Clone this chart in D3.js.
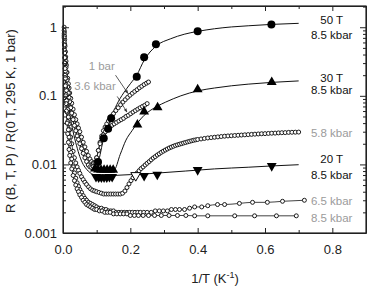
<!DOCTYPE html>
<html>
<head>
<meta charset="utf-8">
<script src="https://cdn.jsdelivr.net/npm/d3@7"></script>
<style>
  body { margin: 0; background: #fff; }
  svg { font-family: "Liberation Sans", Arial, sans-serif; }
</style>
</head>
<body>
<div id="chart"></div>
<script>
// 1/T (K^-1) vs normalised resistance
const bar1 = [[0.0034,1.0],[0.004,0.85],[0.005,0.66],[0.006,0.53],[0.007,0.44],[0.008,0.37],[0.009,0.32],[0.010,0.28],[0.012,0.22],[0.014,0.18],[0.016,0.15],[0.018,0.13],[0.020,0.11],[0.023,0.092],[0.026,0.078],[0.030,0.064],[0.034,0.053],[0.038,0.045],[0.042,0.039],[0.046,0.034],[0.050,0.030],[0.055,0.025],[0.060,0.021],[0.065,0.018],[0.070,0.0155],[0.075,0.0135],[0.080,0.012],[0.085,0.011],[0.090,0.0105],[0.095,0.0108],[0.100,0.0125],[0.105,0.016],[0.110,0.021],[0.115,0.026],[0.120,0.031],[0.125,0.035],[0.130,0.039],[0.135,0.043],[0.140,0.047],[0.145,0.051],[0.150,0.055],[0.157,0.061],[0.164,0.067],[0.171,0.074],[0.178,0.081],[0.185,0.088],[0.192,0.095],[0.199,0.102],[0.206,0.109],[0.213,0.116],[0.220,0.123],[0.227,0.131],[0.234,0.138],[0.241,0.146],[0.248,0.153],[0.254,0.159]];

const kbar36 = [[0.0034,0.9],[0.004,0.74],[0.005,0.56],[0.006,0.44],[0.007,0.36],[0.008,0.3],[0.009,0.26],[0.010,0.22],[0.012,0.17],[0.014,0.135],[0.016,0.11],[0.018,0.095],[0.020,0.082],[0.023,0.067],[0.026,0.056],[0.030,0.045],[0.034,0.037],[0.038,0.031],[0.042,0.026],[0.046,0.023],[0.050,0.02],[0.055,0.017],[0.060,0.0145],[0.065,0.0125],[0.070,0.011],[0.075,0.0098],[0.080,0.0092],[0.085,0.009],[0.090,0.0093],[0.095,0.0105],[0.100,0.0125],[0.105,0.016],[0.110,0.02],[0.115,0.024],[0.120,0.027],[0.126,0.030],[0.132,0.033],[0.138,0.035],[0.145,0.037],[0.152,0.039],[0.159,0.041],[0.166,0.043],[0.173,0.045],[0.180,0.047],[0.187,0.05],[0.194,0.052],[0.201,0.055],[0.208,0.058],[0.215,0.061],[0.222,0.064],[0.229,0.067],[0.236,0.07],[0.243,0.073],[0.250,0.077]];

const kbar58 = [[0.0034,0.8],[0.004,0.6],[0.005,0.42],[0.006,0.3],[0.007,0.23],[0.008,0.18],[0.009,0.145],[0.010,0.12],[0.012,0.085],[0.014,0.063],[0.016,0.049],[0.018,0.039],[0.020,0.032],[0.023,0.025],[0.026,0.02],[0.030,0.0155],[0.034,0.0125],[0.038,0.0105],[0.042,0.0092],[0.046,0.0082],[0.050,0.0074],[0.055,0.0066],[0.060,0.006],[0.065,0.0055],[0.070,0.0051],[0.076,0.0047],[0.082,0.0044],[0.088,0.0042],[0.094,0.0041],[0.100,0.0040],[0.107,0.0039],[0.114,0.0038],[0.121,0.0037],[0.128,0.0037],[0.135,0.0037],[0.142,0.0037],[0.149,0.0037],[0.156,0.0037],[0.163,0.0037],[0.170,0.0037],[0.177,0.0038],[0.184,0.0041],[0.190,0.0046],[0.196,0.0052],[0.202,0.0058],[0.208,0.0064],[0.214,0.0069],[0.220,0.0075],[0.226,0.0081],[0.232,0.0087],[0.238,0.0092],[0.244,0.0098],[0.250,0.0104],[0.256,0.0110],[0.262,0.0117],[0.268,0.0124],[0.274,0.013],[0.280,0.0137],[0.286,0.0143],[0.292,0.015],[0.298,0.0156],[0.304,0.0162],[0.310,0.0168],[0.316,0.0174],[0.322,0.0179],[0.328,0.0184],[0.334,0.0189],[0.340,0.0193],[0.346,0.0197],[0.352,0.0201],[0.358,0.0205],[0.364,0.0209],[0.370,0.0213],[0.376,0.0217],[0.382,0.0221],[0.388,0.0225],[0.394,0.0228],[0.400,0.0231],[0.41,0.0235],[0.42,0.0239],[0.43,0.0243],[0.44,0.0246],[0.45,0.0249],[0.46,0.0252],[0.47,0.0255],[0.48,0.0258],[0.49,0.026],[0.50,0.0262],[0.51,0.0264],[0.52,0.0266],[0.53,0.0268],[0.54,0.027],[0.55,0.0272],[0.56,0.0274],[0.57,0.0276],[0.58,0.0278],[0.59,0.028],[0.60,0.0281],[0.61,0.0283],[0.62,0.0285],[0.63,0.0286],[0.64,0.0288],[0.65,0.029],[0.66,0.0291],[0.67,0.0293],[0.68,0.0294],[0.69,0.0295],[0.70,0.0296]];

const kbar65 = [[0.0034,0.75],[0.004,0.55],[0.005,0.36],[0.006,0.25],[0.007,0.18],[0.008,0.135],[0.009,0.105],[0.010,0.085],[0.012,0.058],[0.014,0.042],[0.016,0.032],[0.018,0.025],[0.020,0.02],[0.023,0.015],[0.026,0.012],[0.030,0.0092],[0.034,0.0075],[0.038,0.0063],[0.042,0.0054],[0.046,0.0048],[0.050,0.0043],[0.055,0.0039],[0.060,0.0035],[0.065,0.0032],[0.070,0.003],[0.076,0.0028],[0.082,0.0027],[0.088,0.0026],[0.094,0.0025],[0.100,0.0024],[0.107,0.0023],[0.114,0.0023],[0.121,0.0022],[0.128,0.0022],[0.135,0.0021],[0.142,0.0021],[0.150,0.0021],[0.158,0.0020],[0.166,0.0020],[0.174,0.0020],[0.182,0.0020],[0.190,0.0020],[0.198,0.0020],[0.206,0.0020],[0.214,0.0020],[0.222,0.0020],[0.230,0.0020],[0.240,0.0020],[0.250,0.0020],[0.262,0.0020],[0.274,0.0021],[0.286,0.0021],[0.298,0.0021],[0.310,0.0021],[0.322,0.0022],[0.334,0.0022],[0.346,0.0022],[0.361,0.0022],[0.376,0.0023],[0.391,0.0024],[0.412,0.0024],[0.430,0.0025],[0.459,0.0026],[0.480,0.0026],[0.524,0.0027],[0.563,0.0028],[0.607,0.0028],[0.652,0.0029],[0.717,0.0030]];

const kbar85 = [[0.0034,0.7],[0.004,0.48],[0.005,0.3],[0.006,0.2],[0.007,0.14],[0.008,0.1],[0.009,0.077],[0.010,0.06],[0.012,0.04],[0.014,0.028],[0.016,0.021],[0.018,0.0165],[0.020,0.0135],[0.023,0.0105],[0.026,0.0086],[0.030,0.0069],[0.034,0.0058],[0.038,0.005],[0.042,0.0044],[0.046,0.004],[0.050,0.0036],[0.055,0.0033],[0.060,0.003],[0.065,0.0028],[0.070,0.0026],[0.076,0.0025],[0.082,0.0024],[0.088,0.0023],[0.094,0.0022],[0.100,0.0022],[0.108,0.0021],[0.116,0.0021],[0.124,0.0020],[0.132,0.0020],[0.140,0.0020],[0.150,0.0019],[0.160,0.0019],[0.170,0.0019],[0.180,0.0019],[0.190,0.0019],[0.200,0.0018],[0.212,0.0018],[0.224,0.0018],[0.238,0.0018],[0.254,0.0018],[0.272,0.0018],[0.292,0.0018],[0.315,0.0018],[0.340,0.0018],[0.365,0.0018],[0.391,0.00178],[0.430,0.00178],[0.510,0.00178],[0.569,0.00178],[0.634,0.00178],[0.693,0.00178]];

// pulsed field data at 8.5 kbar: lines and markers
const line50T = [[0.0034,0.95],[0.005,0.6],[0.0075,0.36],[0.01,0.25],[0.015,0.14],[0.02,0.095],[0.03,0.055],[0.04,0.036],[0.05,0.025],[0.06,0.018],[0.07,0.014],[0.08,0.011],[0.09,0.0097],[0.095,0.0098],[0.104,0.0108],[0.121,0.024],[0.134,0.033],[0.143,0.047],[0.16,0.075],[0.18,0.11],[0.2,0.15],[0.219,0.2],[0.241,0.33],[0.276,0.53],[0.32,0.68],[0.36,0.79],[0.4,0.87],[0.45,0.95],[0.5,1.01],[0.55,1.05],[0.619,1.1],[0.7,1.14]];
const pts50T = [[0.104,0.0108],[0.121,0.024],[0.134,0.033],[0.143,0.047],[0.219,0.19],[0.241,0.366],[0.276,0.566],[0.40,0.875],[0.619,1.1]];

const line30T = [[0.0034,0.9],[0.005,0.55],[0.0075,0.3],[0.01,0.2],[0.015,0.11],[0.02,0.075],[0.03,0.042],[0.04,0.027],[0.05,0.019],[0.06,0.014],[0.07,0.011],[0.08,0.0095],[0.092,0.0085],[0.151,0.0082],[0.17,0.014],[0.187,0.0226],[0.205,0.031],[0.221,0.04],[0.241,0.052],[0.261,0.062],[0.281,0.071],[0.305,0.081],[0.35,0.1],[0.4,0.118],[0.45,0.13],[0.5,0.14],[0.55,0.148],[0.62,0.157],[0.7,0.165]];
const pts30T = [[0.095,0.0087],[0.104,0.0084],[0.113,0.0083],[0.122,0.0083],[0.131,0.0083],[0.140,0.0083],[0.149,0.0083],[0.221,0.038],[0.241,0.059],[0.281,0.068],[0.40,0.124],[0.62,0.158]];

const line20T = [[0.0034,0.85],[0.005,0.5],[0.0075,0.26],[0.01,0.16],[0.015,0.085],[0.02,0.055],[0.03,0.03],[0.04,0.019],[0.05,0.013],[0.06,0.01],[0.07,0.0085],[0.08,0.0076],[0.09,0.0071],[0.098,0.0068],[0.15,0.0069],[0.2,0.0071],[0.25,0.0073],[0.3,0.0076],[0.363,0.008],[0.45,0.0086],[0.55,0.0091],[0.62,0.0095],[0.7,0.0099]];
const pts20T = [[0.098,0.0066],[0.106,0.0065],[0.114,0.0065],[0.122,0.0065],[0.130,0.0065],[0.138,0.0066],[0.146,0.0066],[0.241,0.0068],[0.28,0.0071],[0.40,0.0083],[0.62,0.0095]];
const open20T = [[0.216,0.0069]];

const xTicks = [0, 0.1, 0.2, 0.3, 0.4, 0.5, 0.6, 0.7, 0.8, 0.9];
const yMajor = [0.001, 0.01, 0.1, 1];
const yLabels = ["0.001", "0.01", "0.1", "1"];

const width = 368, height = 288;
const margin = {top: 6, right: 2, bottom: 55, left: 63};

const svg = d3.select("#chart").append("svg")
    .attr("width", width)
    .attr("height", height);

const x = d3.scaleLinear()
    .domain([0, 0.9])
    .range([margin.left, width - margin.right]);

const y = d3.scaleLog()
    .domain([0.001, 2.04])
    .range([height - margin.bottom, margin.top]);

const gray = "#9b9b9b";

// minor log ticks
const yMinor = [];
[0.001, 0.01, 0.1, 1].forEach(d => {
    for (let k = 2; k <= 9; k++) {
        if (d * k < 2.04) yMinor.push(d * k);
    }
});

function drawAxes() {
    const top = margin.top, bottom = height - margin.bottom;
    const left = margin.left, right = width - margin.right;

    // x ticks on bottom and top, all pointing inward
    svg.append("g")
        .attr("transform", `translate(0,${bottom})`)
        .call(d3.axisBottom(x).tickValues(xTicks).tickSize(-5).tickSizeOuter(0)
            .tickFormat(d => (Math.round(d * 10) % 2 === 0 && d < 0.85) ? d3.format(".1f")(d) : ""))
        .call(g => g.selectAll(".tick text").attr("dy", "1.35em").style("font-size", "13px"))
        .call(g => g.selectAll(".tick line").attr("y2", d => Math.round(d * 10) % 2 === 0 ? -5 : -3));

    svg.append("g")
        .attr("transform", `translate(0,${top})`)
        .call(d3.axisTop(x).tickValues(xTicks).tickSize(-5).tickSizeOuter(0).tickFormat(""))
        .call(g => g.selectAll(".tick line").attr("y2", d => Math.round(d * 10) % 2 === 0 ? 5 : 3));

    // y ticks left and right
    svg.append("g")
        .attr("transform", `translate(${left},0)`)
        .call(d3.axisLeft(y).tickValues(yMajor).tickSize(-6).tickSizeOuter(0)
            .tickFormat((d, i) => yLabels[i]))
        .call(g => g.selectAll(".tick text").attr("x", -6).style("font-size", "13px"));

    svg.append("g")
        .attr("transform", `translate(${left},0)`)
        .call(d3.axisLeft(y).tickValues(yMinor).tickSize(-3).tickFormat(""))
        .call(g => g.select(".domain").remove());

    svg.append("g")
        .attr("transform", `translate(${right},0)`)
        .call(d3.axisRight(y).tickValues(yMajor).tickSize(-6).tickSizeOuter(0).tickFormat(""));

    svg.append("g")
        .attr("transform", `translate(${right},0)`)
        .call(d3.axisRight(y).tickValues(yMinor).tickSize(-3).tickFormat(""))
        .call(g => g.select(".domain").remove());

    svg.selectAll(".domain").attr("stroke", "#222");
    svg.selectAll(".tick line").attr("stroke", "#222");
    svg.selectAll(".tick text").attr("fill", "#222");

    // frame
    svg.append("rect")
        .attr("x", left).attr("y", top)
        .attr("width", right - left).attr("height", bottom - top)
        .attr("fill", "none").attr("stroke", "#222").attr("stroke-width", 1.2);
}

const line = d3.line()
    .x(d => x(d[0]))
    .y(d => y(d[1]))
    .curve(d3.curveMonotoneX);

const plot = svg.append("g");

// open circle series
[bar1, kbar36, kbar58, kbar65, kbar85].forEach(series => {
    plot.append("path")
        .datum(series)
        .attr("fill", "none")
        .attr("stroke", "#111")
        .attr("stroke-width", 0.8)
        .attr("d", line);
});

[line50T, line30T, line20T].forEach(series => {
    plot.append("path")
        .datum(series)
        .attr("fill", "none")
        .attr("stroke", "#111")
        .attr("stroke-width", 1)
        .attr("d", line);
});

[bar1, kbar36, kbar58, kbar65, kbar85].forEach(series => {
    plot.append("g").selectAll("circle")
        .data(series)
        .enter()
        .append("circle")
        .attr("cx", d => x(d[0]))
        .attr("cy", d => y(d[1]))
        .attr("r", 2)
        .attr("fill", "#fff")
        .attr("stroke", "#111")
        .attr("stroke-width", 0.95);
});

plot.append("g").selectAll("circle")
    .data(pts50T)
    .enter()
    .append("circle")
    .attr("cx", d => x(d[0]))
    .attr("cy", d => y(d[1]))
    .attr("r", 4)
    .attr("fill", "#000");

const tri = d3.symbol().type(d3.symbolTriangle).size(42);

plot.append("g").selectAll("path")
    .data(pts30T)
    .enter()
    .append("path")
    .attr("d", tri)
    .attr("transform", d => `translate(${x(d[0])},${y(d[1])})`)
    .attr("fill", "#000");

plot.append("g").selectAll("path")
    .data(pts20T)
    .enter()
    .append("path")
    .attr("d", tri)
    .attr("transform", d => `translate(${x(d[0])},${y(d[1])}) rotate(180)`)
    .attr("fill", "#000");

plot.append("g").selectAll("path")
    .data(open20T)
    .enter()
    .append("path")
    .attr("d", tri)
    .attr("transform", d => `translate(${x(d[0])},${y(d[1])}) rotate(180)`)
    .attr("fill", "#fff")
    .attr("stroke", "#000")
    .attr("stroke-width", 1);

drawAxes();

// series labels on the right (baseline value on the R axis)
const labels = [
    {t: "50 T", v: 1.11, c: "#111"},
    {t: "8.5 kbar", v: 0.68, c: "#111"},
    {t: "30 T", v: 0.159, c: "#111"},
    {t: "8.5 kbar", v: 0.106, c: "#111"},
    {t: "5.8 kbar", v: 0.025, c: gray},
    {t: "20 T", v: 0.0105, c: "#111"},
    {t: "8.5 kbar", v: 0.0061, c: "#111"},
    {t: "6.5 kbar", v: 0.00257, c: gray},
    {t: "8.5 kbar", v: 0.00144, c: gray}
];
svg.append("g").selectAll("text")
    .data(labels)
    .enter()
    .append("text")
    .attr("x", x(0.798))
    .attr("y", d => y(d.v))
    .attr("text-anchor", "middle")
    .attr("fill", d => d.c)
    .style("font-size", "11.5px")
    .text(d => d.t);

// "1 bar" and "3.6 kbar" with arrows
svg.append("defs").append("marker")
    .attr("id", "arrow")
    .attr("viewBox", "0 0 10 10")
    .attr("refX", 9).attr("refY", 5)
    .attr("markerWidth", 5).attr("markerHeight", 5)
    .attr("orient", "auto")
    .append("path")
    .attr("d", "M0,1L10,5L0,9Z")
    .attr("fill", "#333");

const notes = [
    {t: "1 bar", tx: 0.154, ty: 0.235, from: [0.156, 0.2], to: [0.193, 0.108]},
    {t: "3.6 kbar", tx: 0.157, ty: 0.12, from: [0.161, 0.098], to: [0.19, 0.058]}
];

notes.forEach(n => {
    svg.append("text")
        .attr("x", x(n.tx))
        .attr("y", y(n.ty))
        .attr("text-anchor", "end")
        .attr("fill", gray)
        .style("font-size", "11.5px")
        .text(n.t);
    svg.append("line")
        .attr("x1", x(n.from[0])).attr("y1", y(n.from[1]))
        .attr("x2", x(n.to[0])).attr("y2", y(n.to[1]))
        .attr("stroke", "#333")
        .attr("stroke-width", 0.8)
        .attr("marker-end", "url(#arrow)");
});

// axis titles
const xt = svg.append("text")
    .attr("x", 215)
    .attr("y", 283)
    .attr("text-anchor", "middle")
    .attr("fill", "#222")
    .style("font-size", "13px");
xt.append("tspan").text("1/T (K");
xt.append("tspan").attr("dy", -5).style("font-size", "9px").text("-1");
xt.append("tspan").attr("dy", 5).text(")");

svg.append("text")
    .attr("transform", "rotate(-90)")
    .attr("x", -121)
    .attr("y", 15)
    .attr("text-anchor", "middle")
    .attr("fill", "#222")
    .style("font-size", "13px")
    .text("R (B, T, P) / R(0 T, 295 K, 1 bar)");
</script>
</body>
</html>
